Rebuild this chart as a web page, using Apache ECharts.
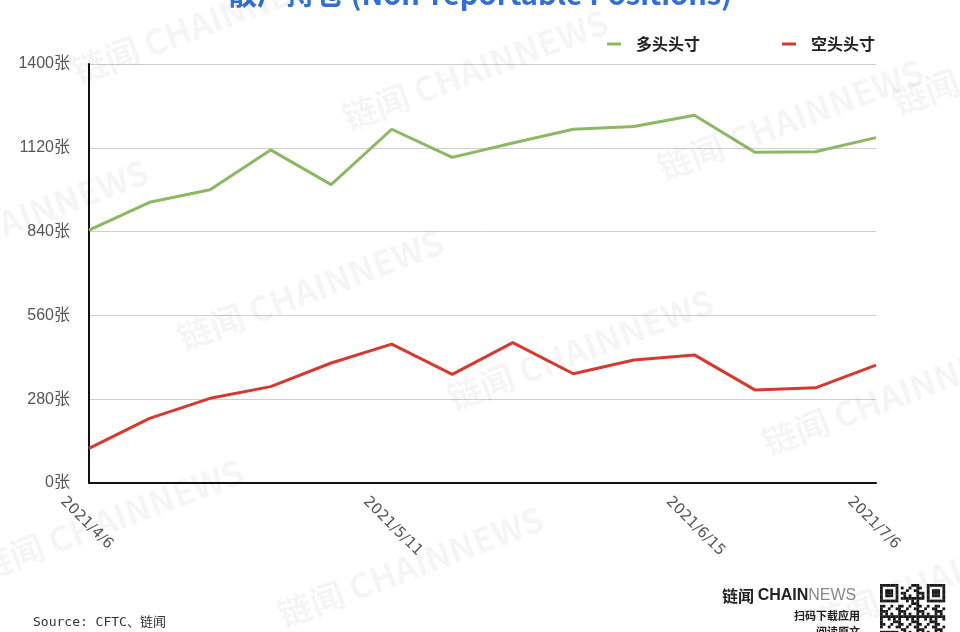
<!DOCTYPE html>
<html><head><meta charset="utf-8">
<script src="https://cdn.jsdelivr.net/npm/echarts@6/dist/echarts.min.js"></script>
<style>html,body{margin:0;padding:0;background:#fff}#c{width:960px;height:632px}</style>
</head><body><div id="c"></div>
<script>
const dates = ['2021/4/6','2021/4/13','2021/4/20','2021/4/27','2021/5/4','2021/5/11','2021/5/18','2021/5/25','2021/6/1','2021/6/8','2021/6/15','2021/6/22','2021/6/29','2021/7/6'];
const longPos = [845, 938, 980, 1113, 997, 1182, 1088, 1136, 1182, 1191, 1229, 1105, 1107, 1154];
const shortPos = [116, 216, 283, 322, 401, 464, 363, 469, 365, 411, 428, 311, 318, 394];
const seriesNames = ['多头头寸', '空头头寸'];
const yTicks = {min: 0, max: 1400, interval: 280};
const shownLabels = [0, 5, 10, 13];

const wm = [
  [80, 88], [350, 135], [665, 185], [-110, 285], [185, 355], [455, 415], [770, 460], [-15, 585], [285, 632], [820, 640], [900, 120]
];
const graphics = wm.map(p => ({
  type: 'text', x: p[0], y: p[1], rotation: 0.36, z: 100, silent: true,
  style: {text: '链闻 CHAINNEWS', font: 'bold 34px "Noto Sans CJK SC", "Open Sans"', fill: 'rgba(0,0,0,0.04)', textVerticalAlign: 'bottom'}
}));
graphics.push(
  {type: 'text', left: 'center', top: -21, style: {text: '散户持仓 (Non-reportable Positions)', font: 'bold 29px "Noto Sans CJK SC"', fill: '#2f6fd6'}},
  {type: 'text', left: 33, top: 616, style: {text: 'Source: CFTC、链闻', font: '13px "DejaVu Sans Mono", "Noto Sans CJK SC"', fill: '#333'}},
  {type: 'text', left: 722, top: 588, style: {rich: {a: {font: 'bold 16px "Noto Sans CJK SC"', fill: '#222'}, b: {font: 'bold 16px "Liberation Sans"', fill: '#222'}, c: {font: '16px "Liberation Sans"', fill: '#888'}}, text: '{a|链闻 }{b|CHAIN}{c|NEWS}'}},
  {type: 'text', right: 100, top: 610, style: {text: '扫码下载应用', font: 'bold 11px "Noto Sans CJK SC"', fill: '#222', textAlign: 'right'}},
  {type: 'text', right: 100, top: 626, style: {text: '阅读原文', font: 'bold 11px "Noto Sans CJK SC"', fill: '#222', textAlign: 'right'}}
);
// QR-like decoration
const qr = {type: 'group', x: 880, y: 584, children: []};
const M = 2.6, N = 25;
const finder = (r, c) => {
  const inF = (r0, c0) => r >= r0 && r < r0 + 7 && c >= c0 && c < c0 + 7;
  for (const [r0, c0] of [[0, 0], [0, N - 7], [N - 7, 0]]) {
    if (inF(r0, c0)) {
      const rr = r - r0, cc = c - c0;
      return (rr === 0 || rr === 6 || cc === 0 || cc === 6 || (rr >= 2 && rr <= 4 && cc >= 2 && cc <= 4)) ? 1 : 0;
    }
    if (r >= r0 - 1 && r <= r0 + 7 && c >= c0 - 1 && c <= c0 + 7) return 0;
  }
  return -1;
};
for (let r = 0; r < N; r++) for (let c = 0; c < N; c++) {
  let f = finder(r, c);
  if (f === -1) f = ((r * 7 + c * 13 + r * c * 3) % 7) < 3 ? 1 : 0;
  if (f) qr.children.push({type: 'rect', shape: {x: c * M, y: r * M, width: M + 0.2, height: M + 0.2}, style: {fill: '#1a1a1a'}});
}
graphics.push(qr);

const chart = echarts.init(document.getElementById('c'));
chart.setOption({
  backgroundColor: '#fff',
  animation: false,
  grid: {left: 89, right: 84, top: 64, bottom: 149},
  legend: {
    top: 31, left: 602, itemGap: 82, itemWidth: 14, itemHeight: 3, icon: 'rect',
    textStyle: {fontSize: 16, fontWeight: 'bold', color: '#222', fontFamily: '"Noto Sans CJK SC"', padding: [0, 0, 0, 10]},
    data: seriesNames
  },
  xAxis: {
    type: 'category', boundaryGap: false, data: dates,
    axisLine: {lineStyle: {color: '#111', width: 2}},
    axisTick: {show: false},
    axisLabel: {
      rotate: -45, color: '#555', fontSize: 15, fontFamily: '"DejaVu Sans"', margin: -10,
      align: 'left', verticalAlign: 'top', lineHeight: 18, padding: [28, 0, 0, 0],
      interval: (i) => shownLabels.includes(i)
    }
  },
  yAxis: {
    type: 'value', min: yTicks.min, max: yTicks.max, interval: yTicks.interval,
    axisLine: {show: true, lineStyle: {color: '#111', width: 2}},
    axisTick: {show: false},
    splitLine: {lineStyle: {color: '#cfcfcf', width: 1}},
    axisLabel: {formatter: (v) => v + '张', color: '#555', fontSize: 16, fontFamily: '"Liberation Sans", "Noto Sans CJK SC"', margin: 19}
  },
  series: [
    {name: seriesNames[0], type: 'line', data: longPos, symbol: 'none', lineStyle: {width: 3, color: '#8cb763'}, itemStyle: {color: '#8cb763'}},
    {name: seriesNames[1], type: 'line', data: shortPos, symbol: 'none', lineStyle: {width: 3, color: '#d63a2f'}, itemStyle: {color: '#d63a2f'}}
  ],
  graphic: graphics
});
</script></body></html>
